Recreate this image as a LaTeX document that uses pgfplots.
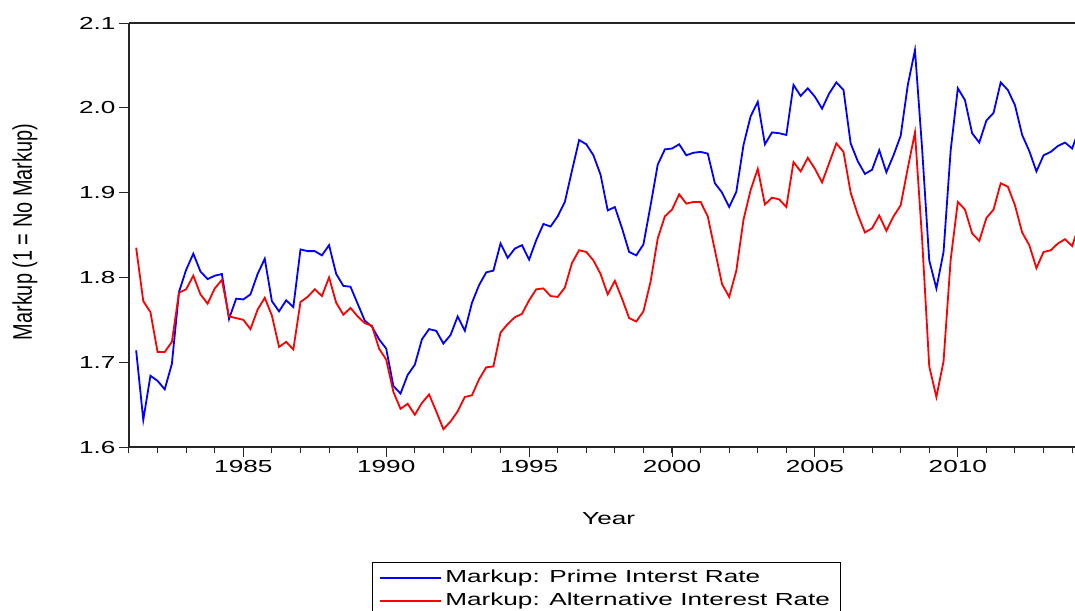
\documentclass[border=0pt]{standalone}
\usepackage{fontspec}
\setmainfont{Liberation Sans}[FakeStretch=1.5]
\newfontfamily\ylabfont{Liberation Sans}[FakeStretch=1.0]
\usepackage{pgfplots}
\pgfplotsset{compat=1.18}
\usepackage{pgfplotstable}

% Quarterly markup series, 1981Q2 onwards
\pgfplotstableread{
t prime alt
1981.25 1.714 1.835
1981.50 1.632 1.772
1981.75 1.684 1.759
1982.00 1.678 1.712
1982.25 1.668 1.712
1982.50 1.698 1.724
1982.75 1.783 1.782
1983.00 1.809 1.786
1983.25 1.828 1.802
1983.50 1.807 1.780
1983.75 1.798 1.769
1984.00 1.802 1.787
1984.25 1.804 1.797
1984.50 1.751 1.754
1984.75 1.775 1.752
1985.00 1.774 1.750
1985.25 1.780 1.739
1985.50 1.804 1.762
1985.75 1.822 1.776
1986.00 1.772 1.755
1986.25 1.760 1.718
1986.50 1.773 1.724
1986.75 1.765 1.715
1987.00 1.833 1.771
1987.25 1.831 1.777
1987.50 1.831 1.786
1987.75 1.826 1.778
1988.00 1.838 1.800
1988.25 1.804 1.770
1988.50 1.790 1.756
1988.75 1.789 1.764
1989.00 1.769 1.754
1989.25 1.749 1.746
1989.50 1.742 1.743
1989.75 1.727 1.716
1990.00 1.716 1.703
1990.25 1.672 1.665
1990.50 1.663 1.645
1990.75 1.685 1.651
1991.00 1.697 1.638
1991.25 1.727 1.652
1991.50 1.739 1.662
1991.75 1.737 1.642
1992.00 1.722 1.621
1992.25 1.732 1.630
1992.50 1.754 1.642
1992.75 1.737 1.659
1993.00 1.770 1.661
1993.25 1.791 1.680
1993.50 1.806 1.694
1993.75 1.808 1.695
1994.00 1.840 1.735
1994.25 1.823 1.745
1994.50 1.834 1.753
1994.75 1.838 1.757
1995.00 1.821 1.773
1995.25 1.844 1.786
1995.50 1.863 1.787
1995.75 1.860 1.778
1996.00 1.872 1.777
1996.25 1.889 1.788
1996.50 1.926 1.817
1996.75 1.962 1.832
1997.00 1.957 1.830
1997.25 1.944 1.820
1997.50 1.921 1.804
1997.75 1.879 1.780
1998.00 1.883 1.796
1998.25 1.858 1.775
1998.50 1.830 1.752
1998.75 1.826 1.748
1999.00 1.839 1.760
1999.25 1.885 1.795
1999.50 1.933 1.846
1999.75 1.951 1.872
2000.00 1.952 1.880
2000.25 1.957 1.898
2000.50 1.944 1.887
2000.75 1.947 1.889
2001.00 1.948 1.889
2001.25 1.946 1.872
2001.50 1.911 1.832
2001.75 1.900 1.792
2002.00 1.883 1.777
2002.25 1.901 1.808
2002.50 1.956 1.868
2002.75 1.990 1.903
2003.00 2.007 1.928
2003.25 1.957 1.886
2003.50 1.971 1.894
2003.75 1.970 1.892
2004.00 1.968 1.883
2004.25 2.027 1.936
2004.50 2.014 1.925
2004.75 2.023 1.941
2005.00 2.013 1.928
2005.25 1.999 1.912
2005.50 2.017 1.935
2005.75 2.030 1.958
2006.00 2.021 1.948
2006.25 1.958 1.900
2006.50 1.937 1.874
2006.75 1.922 1.853
2007.00 1.927 1.858
2007.25 1.950 1.873
2007.50 1.924 1.855
2007.75 1.944 1.872
2008.00 1.967 1.885
2008.25 2.027 1.929
2008.50 2.068 1.971
2008.75 1.952 1.845
2009.00 1.820 1.695
2009.25 1.787 1.659
2009.50 1.830 1.701
2009.75 1.950 1.821
2010.00 2.023 1.889
2010.25 2.009 1.880
2010.50 1.970 1.852
2010.75 1.959 1.843
2011.00 1.985 1.870
2011.25 1.994 1.880
2011.50 2.030 1.911
2011.75 2.021 1.907
2012.00 2.003 1.885
2012.25 1.968 1.853
2012.50 1.949 1.838
2012.75 1.925 1.811
2013.00 1.944 1.830
2013.25 1.948 1.832
2013.50 1.955 1.840
2013.75 1.959 1.845
2014.00 1.952 1.837
2014.25 1.975 1.862
}\markupdata

\begin{document}
\begin{tikzpicture}
\begin{axis}[
  at={(0,0)}, anchor=south west,
  scale only axis, width=946bp, height=424bp,
  xmin=1981, xmax=2014.1, ymin=1.6, ymax=2.1,
  axis x line=box, axis y line=left,
  axis line style={-, line width=1.3bp, color=black!85},
  xtick={1985,1990,1995,2000,2005,2010},
  minor xtick={1981,1982,...,2014},
  ytick={1.6,1.7,1.8,1.9,2.0,2.1},
  tick align=outside, xtick pos=left, ytick pos=left,
  major tick length=10bp, minor tick length=6bp,
  every tick/.style={black!85, line width=1bp},
  /pgf/number format/assume math mode=true,
  tick label style={font=\fontsize{17.5}{20}\selectfont},
  yticklabel style={/pgf/number format/fixed, /pgf/number format/fixed zerofill, /pgf/number format/precision=1},
  xticklabel style={/pgf/number format/1000 sep={}},
  xlabel={Year},
  ylabel={\ylabfont Markup (1 = No Markup)},
  x label style={at={(axis description cs:0.507,-0.168)}, anchor=center, font=\fontsize{17.5}{20}\selectfont},
  y label style={at={(axis description cs:-0.110,0.507)}, anchor=center, font=\fontsize{20}{22}\selectfont, yscale=1.35},
  legend style={at={(axis description cs:0.257,-0.271)}, anchor=north west,
    draw=black, line width=0.8bp, font=\fontsize{17.5}{20}\selectfont,
    inner xsep=7bp, inner ysep=4bp, row sep=0bp,
    cells={anchor=west},
    nodes={inner sep=3bp, text height=13bp, text depth=4bp}},
  legend image code/.code={%
    \draw[#1, line width=1bp] (0bp,0bp) -- (53bp,0bp);
    \path (0bp,0bp) -- (61bp,0bp);},
  legend cell align=left,
]
\addplot[color={rgb,255:red,0;green,0;blue,255}, line width=1.8bp] table[x=t, y=prime] {\markupdata};
\addlegendentry{Markup: Prime Interst Rate}
\addplot[color={rgb,255:red,255;green,0;blue,0}, line width=1.8bp] table[x=t, y=alt] {\markupdata};
\addlegendentry{Markup: Alternative Interest Rate}
\end{axis}
\pgfresetboundingbox
\useasboundingbox (-129bp,-164bp) rectangle (946bp,447bp);
\end{tikzpicture}
\end{document}
